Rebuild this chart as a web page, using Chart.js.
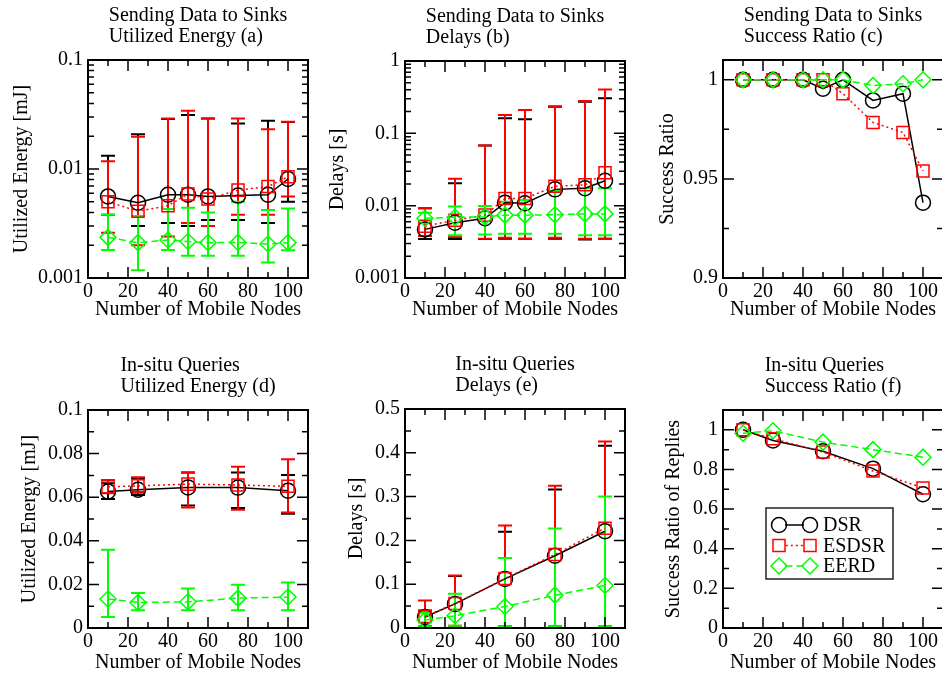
<!DOCTYPE html>
<html>
<head>
<meta charset="utf-8">
<script src="https://cdn.jsdelivr.net/npm/chart.js@4.4.1/dist/chart.umd.min.js"></script>
<style>
  html, body { margin: 0; padding: 0; background: #fff; overflow: hidden; width: 942px; height: 677px; }
  canvas { position: absolute; }
</style>
</head>
<body>
<canvas id="pa" width="318" height="338" style="left:0px;top:0px"></canvas>
<canvas id="pb" width="318" height="338" style="left:317px;top:0px"></canvas>
<canvas id="pc" width="318" height="338" style="left:635px;top:0px"></canvas>
<canvas id="pd" width="318" height="338" style="left:0px;top:350px"></canvas>
<canvas id="pe" width="318" height="338" style="left:317px;top:350px"></canvas>
<canvas id="pf" width="318" height="338" style="left:635px;top:350px"></canvas>
<script>
// numero de nodos moviles
const xSinks = [10, 25, 40, 50, 60, 75, 90, 100];
const xQueries = [10, 25, 50, 75, 100];
const xTicks = [0, 20, 40, 60, 80, 100];

// (a) energia, envio a sinks
const dsrEnergyA = [0.0056, 0.0049, 0.0058, 0.0058, 0.0056, 0.0057, 0.0058, 0.0081];
const dsrEnergyALow = [0.0038, 0.0030, 0.0032, 0.0030, 0.0034, 0.0034, 0.0032, 0.0050];
const dsrEnergyAHigh = [0.0132, 0.0208, 0.0288, 0.0313, 0.0290, 0.0262, 0.0277, 0.0270];
const esdsrEnergyA = [0.0050, 0.0041, 0.0046, 0.0059, 0.0053, 0.0064, 0.0069, 0.0085];
const esdsrEnergyALow = [0.0026, 0.0020, 0.0024, 0.0032, 0.0030, 0.0038, 0.0038, 0.0056];
const esdsrEnergyAHigh = [0.0118, 0.0198, 0.0290, 0.0343, 0.0290, 0.0290, 0.0231, 0.0272];
const eerdEnergyA = [0.00236, 0.00211, 0.00223, 0.00216, 0.00211, 0.00212, 0.00205, 0.00211];
const eerdEnergyALow = [0.00181, 0.00118, 0.00181, 0.0016, 0.0016, 0.0016, 0.00139, 0.0018];
const eerdEnergyAHigh = [0.0038, 0.0037, 0.0043, 0.0044, 0.0040, 0.0050, 0.0042, 0.00435];

// (b) retardos, envio a sinks
const dsrDelayB = [0.0047, 0.0058, 0.0067, 0.0110, 0.0108, 0.0168, 0.0174, 0.0221];
const dsrDelayBLow = [0.00346, 0.00346, 0.00346, 0.0035, 0.0035, 0.0035, 0.0034, 0.0035];
const dsrDelayBHigh = [0.0092, 0.0204, 0.068, 0.161, 0.156, 0.234, 0.274, 0.305];
const esdsrDelayB = [0.0052, 0.0063, 0.0074, 0.0126, 0.0126, 0.0185, 0.0194, 0.0286];
const esdsrDelayBLow = [0.0038, 0.0037, 0.0035, 0.0036, 0.0035, 0.0036, 0.0035, 0.0035];
const esdsrDelayBHigh = [0.0092, 0.0236, 0.068, 0.179, 0.21, 0.236, 0.28, 0.405];
const eerdDelayB = [0.0067, 0.0069, 0.0070, 0.0074, 0.0074, 0.0075, 0.0077, 0.0077];
const eerdDelayBLow = [0.0058, 0.0039, 0.0040, 0.0041, 0.0041, 0.0041, 0.0039, 0.0039];
const eerdDelayBHigh = [0.0080, 0.0097, 0.0099, 0.0113, 0.0120, 0.016, 0.0174, 0.0174];

// (c) tasa de exito, envio a sinks
const dsrRatioC = [1, 1, 1, 0.9955, 1, 0.9896, 0.993, 0.938];
const esdsrRatioC = [1, 1, 1, 1, 0.993, 0.9785, 0.9734, 0.954];
const eerdRatioC = [1, 1, 1, 1, 1, 0.9971, 0.998, 1];

// (d) energia, consultas in-situ
const dsrEnergyD = [0.0626, 0.0634, 0.0645, 0.0644, 0.0630];
const dsrEnergyDLow = [0.0592, 0.0610, 0.0562, 0.0550, 0.0524];
const dsrEnergyDHigh = [0.0664, 0.0687, 0.0713, 0.0713, 0.0702];
const esdsrEnergyD = [0.0648, 0.0652, 0.0660, 0.0656, 0.0650];
const esdsrEnergyDLow = [0.0618, 0.0620, 0.0553, 0.0542, 0.0530];
const esdsrEnergyDHigh = [0.0679, 0.0692, 0.0713, 0.0740, 0.0774];
const eerdEnergyD = [0.0133, 0.0117, 0.0120, 0.0137, 0.0142];
const eerdEnergyDLow = [0.0050, 0.0081, 0.0081, 0.0081, 0.0081];
const eerdEnergyDHigh = [0.0359, 0.0160, 0.0181, 0.0198, 0.0209];

// (e) retardos, consultas in-situ
const dsrDelayE = [0.025, 0.055, 0.112, 0.165, 0.221];
const dsrDelayELow = [0.002, 0.003, 0.003, 0.003, 0.003];
const dsrDelayEHigh = [0.040, 0.119, 0.220, 0.316, 0.416];
const esdsrDelayE = [0.026, 0.056, 0.113, 0.168, 0.228];
const esdsrDelayELow = [0.004, 0.005, 0.004, 0.004, 0.004];
const esdsrDelayEHigh = [0.063, 0.120, 0.234, 0.325, 0.426];
const eerdDelayE = [0.018, 0.028, 0.049, 0.075, 0.097];
const eerdDelayELow = [0.002, 0.005, 0.004, 0.004, 0.004];
const eerdDelayEHigh = [0.035, 0.078, 0.160, 0.227, 0.300];

// (f) tasa de respuestas, consultas in-situ
const dsrRatioF = [1.0, 0.946, 0.892, 0.804, 0.675];
const esdsrRatioF = [1.0, 0.955, 0.888, 0.792, 0.707];
const eerdRatioF = [0.983, 0.995, 0.938, 0.9, 0.862];

// ticks del eje y
const yTicksEnergySinks = [0.001, 0.01, 0.1];
const yTicksDelaySinks = [0.001, 0.01, 0.1, 1];
const yTicksRatioSinks = [0.9, 0.95, 1];
const yTicksEnergyQueries = [0, 0.02, 0.04, 0.06, 0.08, 0.1];
const yTicksDelayQueries = [0, 0.1, 0.2, 0.3, 0.4, 0.5];
const yTicksRatioQueries = [0, 0.2, 0.4, 0.6, 0.8, 1];

const seriesNames = ["DSR", "ESDSR", "EERD"];

Chart.defaults.font.family = '"Liberation Serif", "Times New Roman", serif';
Chart.defaults.font.size = 20;
Chart.defaults.color = "#000";

const styles = [
    { borderColor: "#000000", borderDash: [], pointStyle: "circle", pointRadius: 7.5, order: 3 },
    { borderColor: "#ff0000", borderDash: [2, 3], pointStyle: "rect", pointRadius: 8.5, order: 2 },
    { borderColor: "#00ff00", borderDash: [7, 4], pointStyle: "rectRot", pointRadius: 8, order: 1 }
];

function drawMarker(ctx, style, x, y, r) {
    ctx.beginPath();
    if (style === "circle") {
        ctx.arc(x, y, r, 0, Math.PI * 2);
    } else if (style === "rect") {
        const s = r * Math.SQRT1_2;
        ctx.rect(x - s, y - s, 2 * s, 2 * s);
    } else {
        ctx.moveTo(x - r, y); ctx.lineTo(x, y - r); ctx.lineTo(x + r, y); ctx.lineTo(x, y + r); ctx.closePath();
    }
    ctx.stroke();
}

// barras de error
const errorBars = {
    id: "errorBars",
    beforeDatasetsDraw(chart) {
        const ctx = chart.ctx;
        const yScale = chart.scales.y;
        ctx.save();
        chart.data.datasets.forEach((ds, i) => {
            if (!ds.errLow) return;
            const meta = chart.getDatasetMeta(i);
            ctx.strokeStyle = ds.borderColor;
            ctx.lineWidth = 2;
            meta.data.forEach((pt, j) => {
                const lo = yScale.getPixelForValue(ds.errLow[j]);
                const hi = yScale.getPixelForValue(ds.errHigh[j]);
                ctx.beginPath();
                ctx.moveTo(pt.x, lo); ctx.lineTo(pt.x, hi);
                ctx.moveTo(pt.x - 7, lo); ctx.lineTo(pt.x + 7, lo);
                ctx.moveTo(pt.x - 7, hi); ctx.lineTo(pt.x + 7, hi);
                ctx.stroke();
            });
        });
        ctx.restore();
    }
};

// marco y marcas hacia adentro
const frameTicks = {
    id: "frameTicks",
    afterDraw(chart) {
        const { ctx, chartArea: a, scales } = chart;
        const marks = (scale) => {
            const major = scale.ticks.map((t) => t.value);
            const minor = [];
            for (let i = 0; i < major.length - 1; i++) {
                if (scale.type === "logarithmic") {
                    for (let k = 2; k <= 9; k++) minor.push(major[i] * k);
                } else {
                    minor.push((major[i] + major[i + 1]) / 2);
                }
            }
            return [[major, 11], [minor, 6]];
        };
        ctx.save();
        ctx.strokeStyle = "#000";
        ctx.lineWidth = 1.5;
        ctx.beginPath();
        marks(scales.x).forEach(([vals, len]) => {
            vals.forEach((v) => {
                const px = scales.x.getPixelForValue(v);
                if (px < a.left - 0.5 || px > a.right + 0.5) return;
                ctx.moveTo(px, a.bottom); ctx.lineTo(px, a.bottom - len);
                ctx.moveTo(px, a.top); ctx.lineTo(px, a.top + len);
            });
        });
        marks(scales.y).forEach(([vals, len]) => {
            vals.forEach((v) => {
                const py = scales.y.getPixelForValue(v);
                if (py < a.top - 0.5 || py > a.bottom + 0.5) return;
                ctx.moveTo(a.left, py); ctx.lineTo(a.left + len, py);
                ctx.moveTo(a.right, py); ctx.lineTo(a.right - len, py);
            });
        });
        ctx.stroke();
        ctx.lineWidth = 2;
        ctx.strokeRect(a.left, a.top, a.right - a.left, a.bottom - a.top);
        ctx.restore();
    }
};

// titulo de dos lineas alineado a la izquierda
const panelTitle = {
    id: "panelTitle",
    afterDraw(chart, args, opts) {
        const { ctx, chartArea: a } = chart;
        ctx.save();
        ctx.font = '20px "Liberation Serif"';
        ctx.fillStyle = "#000";
        ctx.textBaseline = "alphabetic";
        const w = Math.max(...opts.lines.map((l) => ctx.measureText(l).width));
        const x0 = (a.left + a.right) / 2 - w / 2;
        opts.lines.forEach((l, i) => ctx.fillText(l, x0, a.top - 39 + i * 21));
        ctx.restore();
    }
};

// leyenda con caja
const boxLegend = {
    id: "boxLegend",
    afterDraw(chart) {
        const { ctx, chartArea: a } = chart;
        const bx = a.left + 43, by = a.top + 98, bw = 127, bh = 71;
        ctx.save();
        ctx.fillStyle = "#fff";
        ctx.fillRect(bx, by, bw, bh);
        ctx.strokeStyle = "#222";
        ctx.lineWidth = 1.5;
        ctx.strokeRect(bx, by, bw, bh);
        chart.data.datasets.forEach((ds, i) => {
            const y = by + 17 + i * 20.5;
            const x1 = bx + 13, x2 = bx + 44;
            ctx.strokeStyle = ds.borderColor;
            ctx.lineWidth = 1.5;
            ctx.setLineDash(ds.borderDash);
            ctx.beginPath();
            ctx.moveTo(x1 + ds.pointRadius * 0.8, y); ctx.lineTo(x2 - ds.pointRadius * 0.8, y);
            ctx.stroke();
            ctx.setLineDash([]);
            drawMarker(ctx, ds.pointStyle, x1, y, ds.pointRadius);
            drawMarker(ctx, ds.pointStyle, x2, y, ds.pointRadius);
            ctx.fillStyle = "#000";
            ctx.font = '20px "Liberation Serif"';
            ctx.textBaseline = "middle";
            ctx.fillText(ds.label, bx + 57, y + 1);
        });
        ctx.restore();
    }
};

function panel(id, o) {
    const datasets = o.series.map((s, i) => ({
        label: seriesNames[i],
        data: o.xs.map((x, j) => ({ x: x, y: s.y[j] })),
        errLow: s.low,
        errHigh: s.high,
        borderColor: styles[i].borderColor,
        borderDash: styles[i].borderDash,
        borderWidth: 1.5,
        pointStyle: styles[i].pointStyle,
        pointRadius: styles[i].pointRadius,
        pointBorderWidth: 1.5,
        pointBorderColor: styles[i].borderColor,
        pointBackgroundColor: "rgba(0,0,0,0)",
        tension: 0,
        fill: false,
        order: styles[i].order
    }));
    new Chart(document.getElementById(id), {
        type: "line",
        data: { datasets: datasets },
        options: {
            responsive: false,
            animation: false,
            layout: { padding: { top: o.padTop, right: 3, left: 0, bottom: 0 } },
            plugins: {
                legend: { display: false },
                tooltip: { enabled: false },
                panelTitle: { lines: o.title }
            },
            scales: {
                x: {
                    type: "linear", min: 0, max: 110,
                    afterFit: (s) => { s.height = 60; },
                    afterBuildTicks: (s) => { s.ticks = xTicks.map((v) => ({ value: v })); },
                    grid: { display: false, drawTicks: false },
                    border: { display: false },
                    ticks: { padding: 2, autoSkip: false, maxRotation: 0, callback: (v) => String(v) },
                    title: { display: true, text: "Number of Mobile Nodes", padding: { top: 0, bottom: o.xTitlePad } }
                },
                y: {
                    type: o.yType, min: o.yMin, max: o.yMax,
                    afterFit: (s) => { s.width = 88; },
                    afterBuildTicks: (s) => { s.ticks = o.yTicks.map((v) => ({ value: v })); },
                    grid: { display: false, drawTicks: false },
                    border: { display: false },
                    ticks: { padding: 5, autoSkip: false, callback: (v) => String(v) },
                    title: { display: true, text: o.yTitle, padding: { top: o.yTitlePad, bottom: 0 } }
                }
            }
        },
        plugins: o.legend ? [errorBars, frameTicks, panelTitle, boxLegend] : [errorBars, frameTicks, panelTitle]
    });
}

panel("pa", {
    xs: xSinks, yType: "logarithmic", yMin: 0.001, yMax: 0.1, yTicks: yTicksEnergySinks,
    yTitle: "Utilized Energy [mJ]", yTitlePad: 10, xTitlePad: 16, padTop: 60,
    title: ["Sending Data to Sinks", "Utilized Energy (a)"],
    series: [
        { y: dsrEnergyA, low: dsrEnergyALow, high: dsrEnergyAHigh },
        { y: esdsrEnergyA, low: esdsrEnergyALow, high: esdsrEnergyAHigh },
        { y: eerdEnergyA, low: eerdEnergyALow, high: eerdEnergyAHigh }
    ]
});
panel("pb", {
    xs: xSinks, yType: "logarithmic", yMin: 0.001, yMax: 1, yTicks: yTicksDelaySinks,
    yTitle: "Delays [s]", yTitlePad: 8.5, xTitlePad: 16, padTop: 61,
    title: ["Sending Data to Sinks", "Delays (b)"],
    series: [
        { y: dsrDelayB, low: dsrDelayBLow, high: dsrDelayBHigh },
        { y: esdsrDelayB, low: esdsrDelayBLow, high: esdsrDelayBHigh },
        { y: eerdDelayB, low: eerdDelayBLow, high: eerdDelayBHigh }
    ]
});
panel("pc", {
    xs: xSinks, yType: "linear", yMin: 0.9, yMax: 1.01, yTicks: yTicksRatioSinks,
    yTitle: "Success Ratio", yTitlePad: 21, xTitlePad: 16, padTop: 60,
    title: ["Sending Data to Sinks", "Success Ratio (c)"],
    series: [{ y: dsrRatioC }, { y: esdsrRatioC }, { y: eerdRatioC }]
});
panel("pd", {
    xs: xQueries, yType: "linear", yMin: 0, yMax: 0.1, yTicks: yTicksEnergyQueries,
    yTitle: "Utilized Energy [mJ]", yTitlePad: 18, xTitlePad: 13, padTop: 60,
    title: ["In-situ Queries", "Utilized Energy (d)"],
    series: [
        { y: dsrEnergyD, low: dsrEnergyDLow, high: dsrEnergyDHigh },
        { y: esdsrEnergyD, low: esdsrEnergyDLow, high: esdsrEnergyDHigh },
        { y: eerdEnergyD, low: eerdEnergyDLow, high: eerdEnergyDHigh }
    ]
});
panel("pe", {
    xs: xQueries, yType: "linear", yMin: 0, yMax: 0.5, yTicks: yTicksDelayQueries,
    yTitle: "Delays [s]", yTitlePad: 28, xTitlePad: 13, padTop: 59,
    title: ["In-situ Queries", "Delays (e)"],
    series: [
        { y: dsrDelayE, low: dsrDelayELow, high: dsrDelayEHigh },
        { y: esdsrDelayE, low: esdsrDelayELow, high: esdsrDelayEHigh },
        { y: eerdDelayE, low: eerdDelayELow, high: eerdDelayEHigh }
    ]
});
panel("pf", {
    xs: xQueries, yType: "linear", yMin: 0, yMax: 1.1, yTicks: yTicksRatioQueries,
    yTitle: "Success Ratio of Replies", yTitlePad: 27, xTitlePad: 13, padTop: 60,
    title: ["In-situ Queries", "Success Ratio (f)"],
    series: [{ y: dsrRatioF }, { y: esdsrRatioF }, { y: eerdRatioF }],
    legend: true
});
</script>
</body>
</html>
